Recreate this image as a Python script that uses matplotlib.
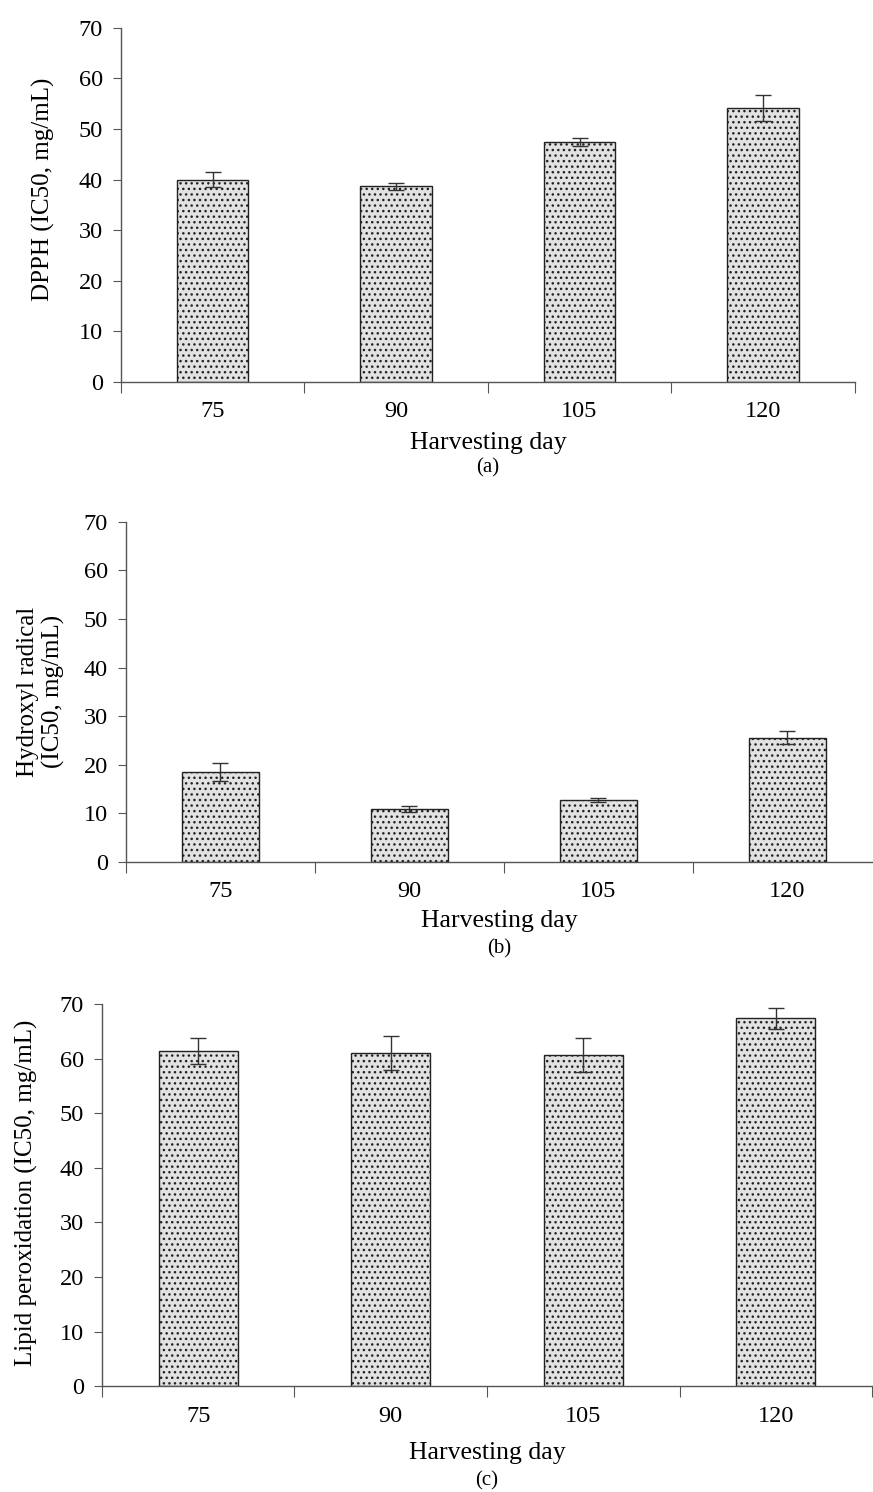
import matplotlib
matplotlib.use("Agg")
import matplotlib.pyplot as plt

plt.rcParams['font.family'] = ['Liberation Serif', 'DejaVu Serif']
plt.rcParams['hatch.color'] = '#333333'
plt.rcParams['hatch.linewidth'] = 1.0

days = ['75', '90', '105', '120']

dpph = [40.0, 38.7, 47.5, 54.2]
dpph_err = [1.5, 0.7, 0.8, 2.6]

hydroxyl = [18.5, 10.9, 12.8, 25.6]
hydroxyl_err = [1.8, 0.6, 0.4, 1.4]

lipid = [61.4, 61.0, 60.6, 67.4]
lipid_err = [2.4, 3.1, 3.1, 1.9]

panels = [
    # values, errors, ylabel, axes rect, bar width, ylabel pos, sublabel, label rows
    (dpph, dpph_err, 'DPPH (IC50, mg/mL)', [0.1386, 0.744, 0.8404, 0.2373], 0.39, (-0.09, 0.545), '(a)', 443, 468),
    (hydroxyl, hydroxyl_err, 'Hydroxyl radical\n(IC50, mg/mL)', [0.1443, 0.4223, 0.8660, 0.2279], 0.41, (-0.081, 0.5), '(b)', 921, 949),
    (lipid, lipid_err, 'Lipid peroxidation (IC50, mg/mL)', [0.1168, 0.0710, 0.8821, 0.2560], 0.41, (-0.083, 0.505), '(c)', 1453, 1481),
]

fig = plt.figure(figsize=(8.73, 14.92), dpi=100)
H = 1492.0

for vals, errs, ylab, rect, bw, ylpos, sub, xly, suby in panels:
    ax = fig.add_axes(rect)
    x = list(range(len(days)))
    ax.bar(x, vals, width=bw, color='#e2e2e2', edgecolor='#222222',
           hatch='...', linewidth=1.0, zorder=2)
    ax.errorbar(x, vals, yerr=errs, fmt='none', ecolor='#333333',
                elinewidth=1.0, capsize=5.5, capthick=1.0, zorder=3)
    ax.set_xlim(-0.5, 3.5)
    ax.set_ylim(0, 70)
    ax.set_yticks(range(0, 71, 10))
    ax.spines['top'].set_visible(False)
    ax.spines['right'].set_visible(False)
    for s in ['left', 'bottom']:
        ax.spines[s].set_color('#555555')
        ax.spines[s].set_linewidth(1.0)
    # boundary ticks without labels, category labels without ticks
    ax.set_xticks([-0.5, 0.5, 1.5, 2.5, 3.5])
    ax.set_xticklabels([])
    ax.set_xticks(x, minor=True)
    ax.set_xticklabels(days, minor=True)
    ax.tick_params(axis='x', which='major', direction='out', length=8, color='#555555')
    ax.tick_params(axis='x', which='minor', length=0, pad=14, labelsize=17.5)
    ax.tick_params(axis='y', direction='out', length=6, color='#555555', labelsize=17.5, pad=7)
    ax.set_ylabel(ylab, fontsize=18, linespacing=1.15)
    ax.yaxis.set_label_coords(*ylpos)
    cx = rect[0] + rect[2] / 2
    if sub == '(b)':
        cx = (126 + 873) / 2 / 873.0
    fig.text(cx, 1 - xly / H, 'Harvesting day', ha='center', va='center', fontsize=18.5)
    fig.text(cx, 1 - suby / H, sub, ha='center', va='center', fontsize=15)

fig.savefig('out.png', dpi=100)
